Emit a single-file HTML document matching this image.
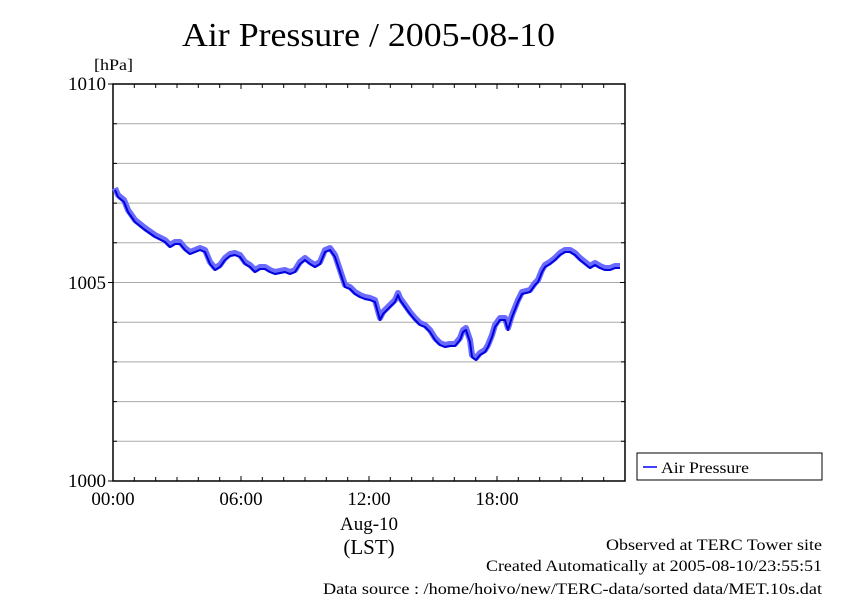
<!DOCTYPE html>
<html><head><meta charset="utf-8"><style>
body{margin:0;background:#fff;}
svg text{font-family:"Liberation Serif",serif;fill:#000;}
</style></head><body>
<svg width="842" height="595" viewBox="0 0 842 595" xmlns="http://www.w3.org/2000/svg">
<rect width="842" height="595" fill="#fff"/>
<text x="182" y="46" font-size="34" textLength="373" lengthAdjust="spacingAndGlyphs">Air Pressure / 2005-08-10</text>
<text x="94" y="70" font-size="16" textLength="39" lengthAdjust="spacingAndGlyphs">[hPa]</text>
<g stroke="#aaa" stroke-width="1">
<line x1="113" y1="123.7" x2="625" y2="123.7"/><line x1="113" y1="163.4" x2="625" y2="163.4"/>
<line x1="113" y1="203.1" x2="625" y2="203.1"/><line x1="113" y1="242.8" x2="625" y2="242.8"/>
<line x1="113" y1="282.5" x2="625" y2="282.5"/><line x1="113" y1="322.2" x2="625" y2="322.2"/>
<line x1="113" y1="361.9" x2="625" y2="361.9"/><line x1="113" y1="401.6" x2="625" y2="401.6"/>
<line x1="113" y1="441.3" x2="625" y2="441.3"/>
</g>
<rect x="113" y="84" width="512" height="397" fill="none" stroke="#000" stroke-width="1.5"/>
<g stroke="#000" stroke-width="1">
<path d="M134.3 84v4M155.7 84v4M177 84v4M198.3 84v4M219.7 84v4M241 84v5M262.3 84v4M283.7 84v4M305 84v4M326.3 84v4M347.7 84v4M369 84v5M390.3 84v4M411.7 84v4M433 84v4M454.3 84v4M475.7 84v4M497 84v5M518.3 84v4M539.7 84v4M561 84v4M582.3 84v4M603.7 84v4"/>
<path d="M134.3 481v-4M155.7 481v-4M177 481v-4M198.3 481v-4M219.7 481v-4M241 481v-5M262.3 481v-4M283.7 481v-4M305 481v-4M326.3 481v-4M347.7 481v-4M369 481v-5M390.3 481v-4M411.7 481v-4M433 481v-4M454.3 481v-4M475.7 481v-4M497 481v-5M518.3 481v-4M539.7 481v-4M561 481v-4M582.3 481v-4M603.7 481v-4"/>
<path d="M108 84h5M108 282.5h5M108 481h5M625 123.7h-4M625 163.4h-4M625 203.1h-4M625 242.8h-4M625 282.5h-5M625 322.2h-4M625 361.9h-4M625 401.6h-4M625 441.3h-4M113 123.7h4M113 163.4h4M113 203.1h4M113 242.8h4M113 322.2h4M113 361.9h4M113 401.6h4M113 441.3h4"/>
</g>
<g font-size="19" text-anchor="end">
<text x="106" y="90">1010</text><text x="106" y="289">1005</text><text x="106" y="487">1000</text>
</g>
<g font-size="19" text-anchor="middle">
<text x="113" y="505">00:00</text><text x="241" y="505">06:00</text><text x="369" y="505">12:00</text><text x="497" y="505">18:00</text>
<text x="369" y="530">Aug-10</text><text x="369" y="554" font-size="21">(LST)</text>
</g>
<g fill="none" stroke-linejoin="round">
<polyline stroke="#6a6aff" stroke-width="6" points="115,188 118,195 124,200 128,210 135,220 145,228 155,235 165,240 170,245 175,242 180,242 185,248 190,252 195,250 200,248 205,250 210,262 215,268 220,265 225,258 230,254 235,253 240,255 245,262 250,265 255,270 260,267 265,267 270,270 275,272 280,271 285,270 290,272 295,270 300,262 305,258 310,262 315,265 320,262 325,250 330,248 335,255 340,270 345,285 350,287 355,292 360,295 365,297 370,298 375,300 380,318 383,312 390,305 395,300 398,293 400,298 405,305 410,312 415,318 420,323 425,325 430,330 435,338 440,343 445,345 450,344 455,344 460,338 463,330 466,328 470,340 472,355 476,358 480,353 485,350 488,345 492,335 495,325 500,318 505,318 508,328 512,315 518,300 522,292 530,290 535,283 538,280 542,270 545,265 550,262 555,258 560,253 565,250 570,250 575,253 580,258 585,262 590,266 595,263 600,266 605,268 610,268 615,266 620,266"/>
<polyline stroke="#0000dd" stroke-width="2" transform="translate(0,2)" points="115,188 118,195 124,200 128,210 135,220 145,228 155,235 165,240 170,245 175,242 180,242 185,248 190,252 195,250 200,248 205,250 210,262 215,268 220,265 225,258 230,254 235,253 240,255 245,262 250,265 255,270 260,267 265,267 270,270 275,272 280,271 285,270 290,272 295,270 300,262 305,258 310,262 315,265 320,262 325,250 330,248 335,255 340,270 345,285 350,287 355,292 360,295 365,297 370,298 375,300 380,318 383,312 390,305 395,300 398,293 400,298 405,305 410,312 415,318 420,323 425,325 430,330 435,338 440,343 445,345 450,344 455,344 460,338 463,330 466,328 470,340 472,355 476,358 480,353 485,350 488,345 492,335 495,325 500,318 505,318 508,328 512,315 518,300 522,292 530,290 535,283 538,280 542,270 545,265 550,262 555,258 560,253 565,250 570,250 575,253 580,258 585,262 590,266 595,263 600,266 605,268 610,268 615,266 620,266"/>
</g>
<rect x="637" y="453" width="185" height="27" fill="#fff" stroke="#000" stroke-width="1"/>
<line x1="643" y1="467" x2="657" y2="467" stroke="#4040ff" stroke-width="2"/>
<text x="661" y="473" font-size="16" textLength="88" lengthAdjust="spacingAndGlyphs">Air Pressure</text>
<g font-size="16">
<text x="606" y="550" textLength="216" lengthAdjust="spacingAndGlyphs">Observed at TERC Tower site</text>
<text x="486" y="571" textLength="336" lengthAdjust="spacingAndGlyphs">Created Automatically at 2005-08-10/23:55:51</text>
<text x="323" y="594" textLength="499" lengthAdjust="spacingAndGlyphs">Data source : /home/hoivo/new/TERC-data/sorted  data/MET.10s.dat</text>
</g>
</svg>
</body></html>
